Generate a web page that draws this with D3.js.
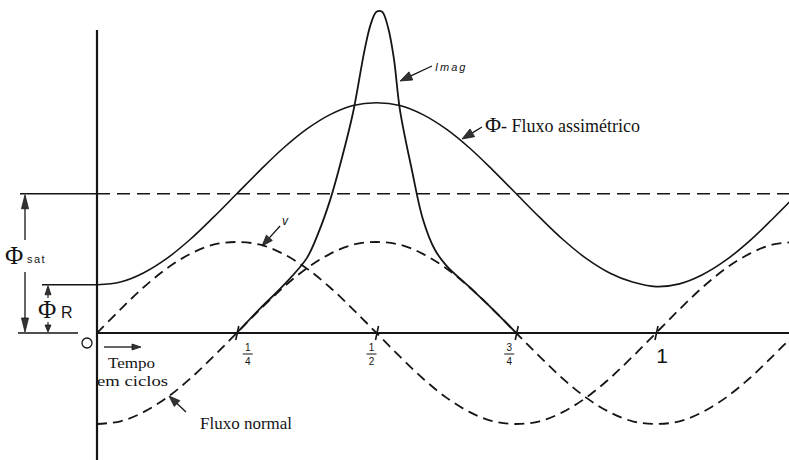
<!DOCTYPE html>
<html>
<head>
<meta charset="utf-8">
<script src="https://cdn.jsdelivr.net/npm/d3@7/dist/d3.min.js"></script>
<style>
  html, body { margin: 0; padding: 0; background: #fff; }
  svg { display: block; }
</style>
</head>
<body>
<svg id="chart" width="789" height="460"></svg>
<script>
// Time in cycles, sampled every 1/24 cycle
const tempo = [0.000, 0.042, 0.083, 0.125, 0.167, 0.208, 0.250, 0.292, 0.333, 0.375,
               0.417, 0.458, 0.500, 0.542, 0.583, 0.625, 0.667, 0.708, 0.750, 0.792,
               0.833, 0.875, 0.917, 0.958, 1.000, 1.042, 1.083, 1.125, 1.167, 1.208, 1.250];

// Voltage v (per unit of peak)
const tensao = [0.00, 0.26, 0.50, 0.71, 0.87, 0.97, 1.00, 0.97, 0.87, 0.71,
                0.50, 0.26, 0.00, -0.26, -0.50, -0.71, -0.87, -0.97, -1.00, -0.97,
                -0.87, -0.71, -0.50, -0.26, 0.00, 0.26, 0.50, 0.71, 0.87, 0.97, 1.00];

// Normal (symmetric) flux
const fluxoNormal = [-1.00, -0.97, -0.87, -0.71, -0.50, -0.26, 0.00, 0.26, 0.50, 0.71,
                     0.87, 0.97, 1.00, 0.97, 0.87, 0.71, 0.50, 0.26, 0.00, -0.26,
                     -0.50, -0.71, -0.87, -0.97, -1.00, -0.97, -0.87, -0.71, -0.50, -0.26, 0.00];

// Asymmetric flux, starting from the residual flux
const fluxoAssimetrico = [0.53, 0.56, 0.66, 0.82, 1.03, 1.27, 1.53, 1.79, 2.03, 2.24,
                          2.40, 2.50, 2.53, 2.50, 2.40, 2.24, 2.03, 1.79, 1.53, 1.27,
                          1.03, 0.82, 0.66, 0.56, 0.51, 0.54, 0.64, 0.80, 1.01, 1.25, 1.51];

// Magnetizing current while the core is saturated
const imagTempo = [0.250, 0.292, 0.333, 0.375, 0.396, 0.417, 0.438, 0.458, 0.479,
                   0.490, 0.500, 0.510, 0.521, 0.531, 0.542, 0.563, 0.583, 0.604, 0.625,
                   0.667, 0.708, 0.750];
const imagValor = [0.00, 0.27, 0.52, 0.82, 1.10, 1.46, 1.92, 2.42, 3.12,
                   3.40, 3.53, 3.53, 3.35, 3.02, 2.45, 1.80, 1.25, 0.92, 0.74,
                   0.50, 0.26, 0.00];

// Reference flux levels
const fluxoSaturacao = 1.53;
const fluxoResidual = 0.53;

// Quarter-cycle ticks
const marcas = [0.25, 0.5, 0.75, 1];
const marcaRotulos = [["1", "4"], ["1", "2"], ["3", "4"], ["1"]];

const W = 789, H = 460;
const ink = "#151515";
const svg = d3.select("#chart");

const x = d3.scaleLinear().domain([0, 1]).range([97, 656]);
const y = d3.scaleLinear().domain([0, 1]).range([333, 242]);
const axisX = x(0), axisY = y(0);

const serif = "'Liberation Serif', 'Times New Roman', serif";
const sans = "'Liberation Sans', 'DejaVu Sans', sans-serif";

// clip curves to the drawing window
svg.append("clipPath").attr("id", "area")
  .append("rect").attr("x", axisX).attr("y", 0).attr("width", W - axisX).attr("height", H);

const plot = svg.append("g").attr("clip-path", "url(#area)");

const line = d3.line()
  .x(d => x(d[0]))
  .y(d => y(d[1]))
  .curve(d3.curveCatmullRom.alpha(0.5));

function serie(ts, vs) { return ts.map((t, i) => [t, vs[i]]); }

// Axes
svg.append("line").attr("x1", axisX).attr("x2", axisX).attr("y1", 30).attr("y2", H)
  .attr("stroke", ink).attr("stroke-width", 2.2);

const eixo = d3.axisBottom(x).tickValues(marcas).tickSize(0).tickFormat("");
const gEixo = svg.append("g").attr("transform", `translate(0,${axisY})`).call(eixo);
gEixo.select(".domain").remove();
gEixo.append("line").attr("x1", axisX).attr("x2", W).attr("y1", 0).attr("y2", 0)
  .attr("stroke", ink).attr("stroke-width", 2);
gEixo.selectAll(".tick line")
  .attr("x1", 1.5).attr("x2", -1.5).attr("y1", -7).attr("y2", 7)
  .attr("stroke", ink).attr("stroke-width", 1.6);

// Quarter-cycle fraction labels
const rotuloDx = [11, -5, -7, 6];
marcas.forEach((m, i) => {
  const cx = x(m) + rotuloDx[i];
  const r = marcaRotulos[i];
  if (r.length === 2) {
    svg.append("text").attr("x", cx).attr("y", axisY + 18).attr("text-anchor", "middle")
      .attr("font-family", sans).attr("font-size", 10).attr("fill", ink).text(r[0]);
    svg.append("line").attr("x1", cx - 5).attr("x2", cx + 5)
      .attr("y1", axisY + 21).attr("y2", axisY + 21).attr("stroke", ink).attr("stroke-width", 1);
    svg.append("text").attr("x", cx).attr("y", axisY + 32).attr("text-anchor", "middle")
      .attr("font-family", sans).attr("font-size", 10).attr("fill", ink).text(r[1]);
  } else {
    svg.append("text").attr("x", cx).attr("y", axisY + 30).attr("text-anchor", "middle")
      .attr("font-family", sans).attr("font-size", 21).attr("fill", ink).text(r[0]);
  }
});

// Saturation flux level
svg.append("line").attr("x1", 20).attr("x2", axisX).attr("y1", y(fluxoSaturacao)).attr("y2", y(fluxoSaturacao))
  .attr("stroke", ink).attr("stroke-width", 1.4);
svg.append("line").attr("x1", axisX).attr("x2", W).attr("y1", y(fluxoSaturacao)).attr("y2", y(fluxoSaturacao))
  .attr("stroke", ink).attr("stroke-width", 1.5).attr("stroke-dasharray", "13,7");

// Residual flux level and base line on the left
svg.append("line").attr("x1", 42).attr("x2", axisX).attr("y1", y(fluxoResidual)).attr("y2", y(fluxoResidual))
  .attr("stroke", ink).attr("stroke-width", 1.3);
svg.append("line").attr("x1", 18).attr("x2", 78).attr("y1", axisY).attr("y2", axisY)
  .attr("stroke", ink).attr("stroke-width", 1.5);

// Curves
plot.append("path").datum(serie(tempo, tensao)).attr("d", line)
  .attr("fill", "none").attr("stroke", ink).attr("stroke-width", 1.8).attr("stroke-dasharray", "10,6");
plot.append("path").datum(serie(tempo, fluxoNormal)).attr("d", line)
  .attr("fill", "none").attr("stroke", ink).attr("stroke-width", 1.8).attr("stroke-dasharray", "10,6");
plot.append("path").datum(serie(tempo, fluxoAssimetrico)).attr("d", line)
  .attr("fill", "none").attr("stroke", ink).attr("stroke-width", 1.6);
plot.append("path").datum(serie(imagTempo, imagValor)).attr("d", line)
  .attr("fill", "none").attr("stroke", ink).attr("stroke-width", 1.8);

// Arrow helper: shaft plus filled head at (x2, y2)
function seta(x1, y1, x2, y2, len, half, width) {
  const a = Math.atan2(y2 - y1, x2 - x1);
  const bx = x2 - len * Math.cos(a), by = y2 - len * Math.sin(a);
  const px = -Math.sin(a) * half, py = Math.cos(a) * half;
  svg.append("line").attr("x1", x1).attr("y1", y1).attr("x2", bx).attr("y2", by)
    .attr("stroke", ink).attr("stroke-width", width || 1.3);
  svg.append("path")
    .attr("d", `M${x2},${y2}L${bx + px},${by + py}L${bx - px},${by - py}Z`)
    .attr("fill", "#333").attr("stroke", ink).attr("stroke-width", 0.8);
}

// Dimension arrows for the saturation and residual flux
seta(25, 240, 25, y(fluxoSaturacao) + 1, 14, 3.5, 1.3);
seta(25, 272, 25, axisY - 1, 14, 3.5, 1.3);
seta(48, 298, 48, y(fluxoResidual) + 1, 9, 3, 1.1);
seta(48, 322, 48, axisY - 1, 7, 3, 1.1);

svg.append("text").attr("x", 5).attr("y", 264).attr("font-family", serif)
  .attr("font-size", 25).attr("fill", ink).text("Φ");
svg.append("text").attr("x", 27).attr("y", 263).attr("font-family", sans)
  .attr("font-size", 11).attr("letter-spacing", 1.5).attr("fill", ink).text("sat");
svg.append("text").attr("x", 38).attr("y", 318).attr("font-family", serif)
  .attr("font-size", 25).attr("fill", ink).text("Φ");
svg.append("text").attr("x", 61).attr("y", 318).attr("font-family", sans)
  .attr("font-size", 16).attr("fill", ink).text("R");

// Origin and time direction
svg.append("circle").attr("cx", 87).attr("cy", 343).attr("r", 5)
  .attr("fill", "none").attr("stroke", ink).attr("stroke-width", 1.3);
seta(104, 347, 141, 347, 9, 3, 1.3);
svg.append("text").attr("x", 108).attr("y", 368).attr("font-family", serif)
  .attr("font-size", 15).attr("textLength", 47).attr("lengthAdjust", "spacingAndGlyphs")
  .attr("fill", ink).text("Tempo");
svg.append("text").attr("x", 97).attr("y", 386).attr("font-family", serif)
  .attr("font-size", 15).attr("textLength", 71).attr("lengthAdjust", "spacingAndGlyphs")
  .attr("fill", ink).text("em ciclos");

// Curve labels
seta(186, 412, 169, 396, 11, 4, 1.3);
svg.append("text").attr("x", 200).attr("y", 429).attr("font-family", serif)
  .attr("font-size", 17).attr("fill", ink).text("Fluxo normal");

seta(482, 127, 462, 139, 12, 4.5, 1.3);
svg.append("text").attr("x", 485).attr("y", 132).attr("font-family", serif)
  .attr("font-size", 22).attr("fill", ink).text("Φ");
svg.append("text").attr("x", 501).attr("y", 132).attr("font-family", serif)
  .attr("font-size", 18).attr("fill", ink).text("- Fluxo assimétrico");

seta(432, 66, 400, 81, 12, 4.5, 1.3);
svg.append("text").attr("x", 435).attr("y", 71).attr("font-family", sans)
  .attr("font-size", 11).attr("font-style", "italic").attr("letter-spacing", 2)
  .attr("fill", ink).text("Imag");

seta(280, 226, 262, 246, 11, 4, 1.3);
svg.append("text").attr("x", 282).attr("y", 225).attr("font-family", sans)
  .attr("font-size", 12).attr("font-style", "italic").attr("fill", ink).text("v");
</script>
</body>
</html>
